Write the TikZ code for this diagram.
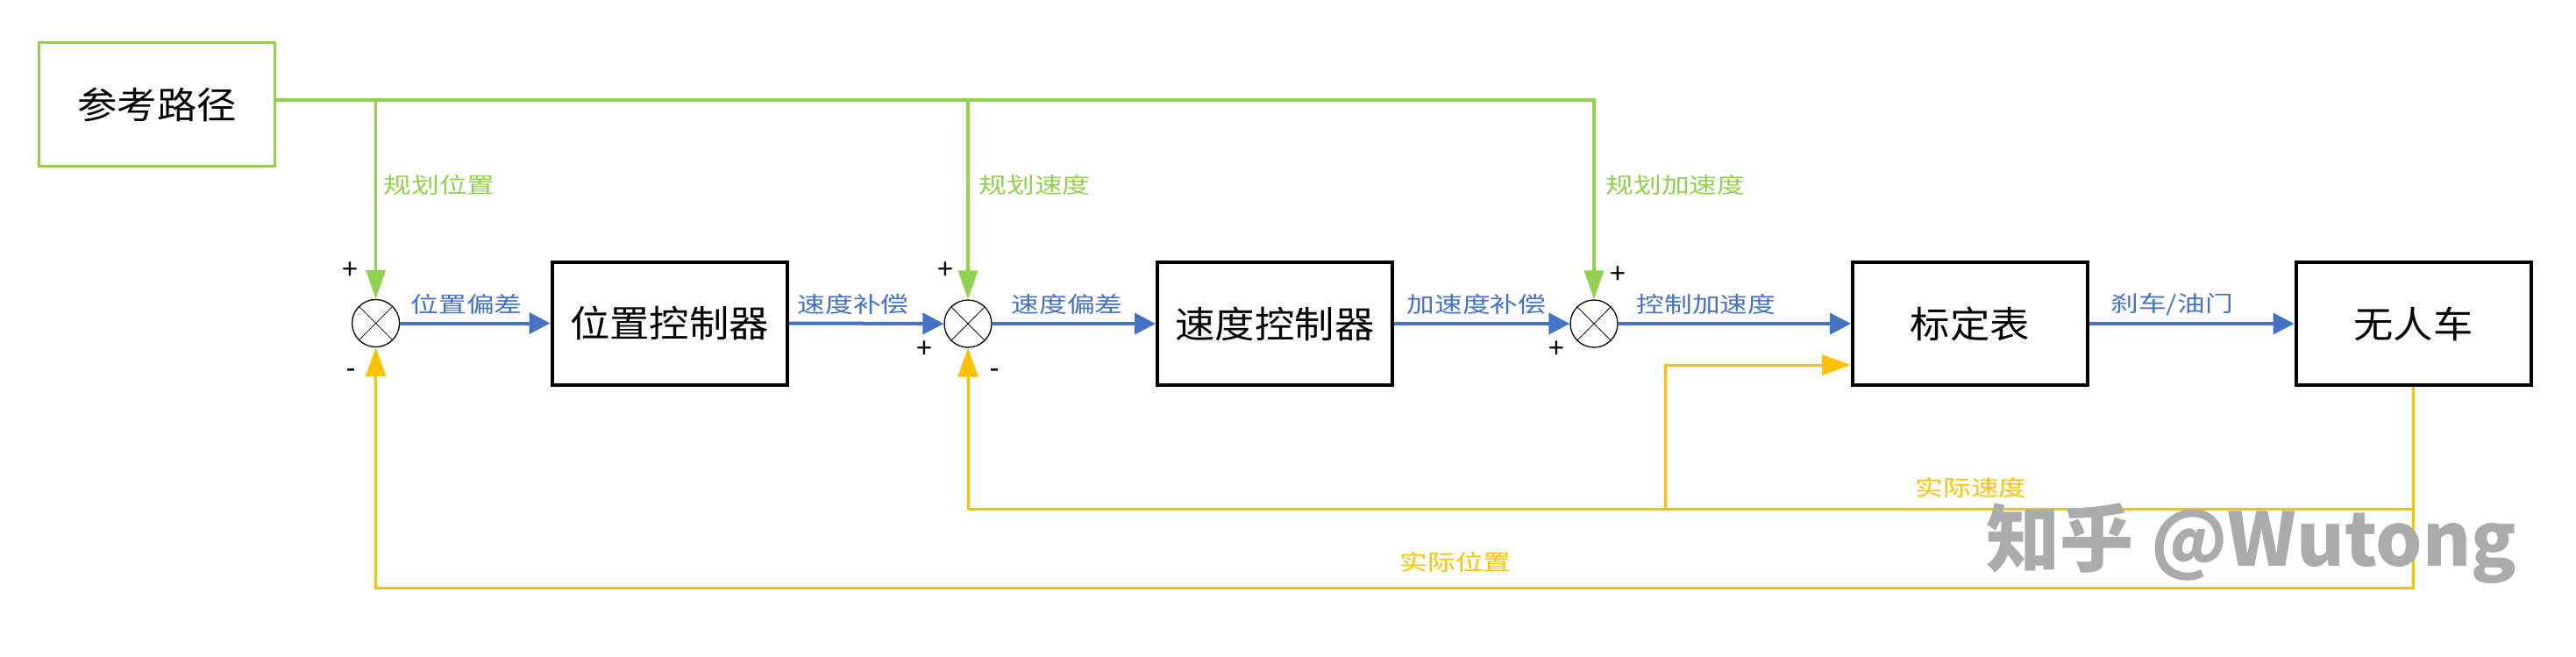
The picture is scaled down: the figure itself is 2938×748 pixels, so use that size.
\documentclass[tikz,border=0pt]{standalone}
\usepackage{fontspec}
\usepackage{graphicx}
\setmainfont{Carlito}
\newfontfamily\cjk{Noto Sans CJK SC}
\usetikzlibrary{arrows.meta}
\definecolor{gr}{HTML}{92D050}
\definecolor{bl}{HTML}{4472C4}
\definecolor{ye}{HTML}{FFC000}
\definecolor{wmc}{HTML}{ABABAB}
\newcommand\bx[1]{\scalebox{1.08}[1]{#1}}
\newcommand\lx[1]{\scalebox{1.27}[1]{#1}}
\tikzset{
  box/.style={draw=black, line width=4pt, minimum width=268pt, minimum height=140pt, inner sep=0pt,
    font=\cjk\fontsize{42}{42}\selectfont},
  refbox/.style={draw=gr, line width=3.5pt, minimum width=269pt, minimum height=141pt, inner sep=0pt,
    font=\cjk\fontsize{42}{42}\selectfont},
  sumj/.style={circle, draw=black, line width=1.3pt, minimum size=54pt, inner sep=0pt},
  gline/.style={draw=gr, line width=3.5pt},
  bline/.style={draw=bl, line width=4pt},
  yline/.style={draw=ye, line width=3pt},
  vtip/.style={-{Triangle[length=33pt,width=22pt]}},
  htip/.style={-{Triangle[length=24pt,width=24pt]}},
  ytip/.style={-{Triangle[length=33pt,width=23pt]}},
  lab/.style={inner sep=0pt, font=\cjk\fontsize{25}{25}\selectfont},
  sgn/.style={inner sep=0pt, font=\fontsize{34}{34}\selectfont, text=black},
}
\begin{document}
\begin{tikzpicture}[x=1pt,y=-1pt]
\useasboundingbox[fill=white] (0,0) rectangle (2938,748);

% blocks
\node[refbox] (ref) at (179,119) {\bx{参考路径}};
\node[box] (pc) at (763.5,368.5) {\bx{位置控制器}};
\node[box] (vc) at (1454,369) {\bx{速度控制器}};
\node[box] (cal) at (2247,369) {\bx{标定表}};
\node[box] (car) at (2752.5,369) {\bx{无人车}};

% summing junctions
\node[sumj] (s1) at (428.6,368.5) {};
\node[sumj] (s2) at (1104,369) {};
\node[sumj] (s3) at (1818,369) {};
\foreach \s in {s1,s2,s3}{
  \draw[line width=0.8pt] (\s.north west) -- (\s.south east) (\s.north east) -- (\s.south west);
}

% helper coordinates
\coordinate (tl) at (0,114);
\coordinate (ya) at (0,580);
\coordinate (yb) at (0,670);
\coordinate (yk) at (1899,580);
\coordinate (yk2) at (1899,416);

% green feed-forward lines
\draw[gline, vtip] (ref.east |- tl) -- (s3 |- tl) -- (s3.north);
\draw[gline, vtip] (s1 |- tl) -- (s1.north);
\draw[gline, vtip] (s2 |- tl) -- (s2.north);

% blue forward path
\draw[bline, htip] (s1.east) -- (pc.west);
\draw[bline, htip] (pc.east) -- (s2.west);
\draw[bline, htip] (s2.east) -- (vc.west);
\draw[bline, htip] (vc.east) -- (s3.west);
\draw[bline, htip] (s3.east) -- (cal.west);
\draw[bline, htip] (cal.east) -- (car.west);

% yellow feedback
\draw[yline, ytip] (car.south) -- (car.south |- yb) -- (s1 |- yb) -- (s1.south);
\draw[yline, ytip] (car.south |- ya) -- (s2 |- ya) -- (s2.south);
\draw[yline, ytip] (yk) -- (yk2) -- (cal.west |- yk2);

% green labels
\node[lab, text=gr] (l1) at (501,211) {\lx{规划位置}};
\node[lab, text=gr] (l2) at (1180,211) {\lx{规划速度}};
\node[lab, text=gr] (l3) at (1911,211) {\lx{规划加速度}};
% blue labels
\node[lab, text=bl] (l4) at (532,347) {\lx{位置偏差}};
\node[lab, text=bl] (l5) at (973,347) {\lx{速度补偿}};
\node[lab, text=bl] (l6) at (1217,347) {\lx{速度偏差}};
\node[lab, text=bl] (l7) at (1684,347) {\lx{加速度补偿}};
\node[lab, text=bl] (l8) at (1946,347) {\lx{控制加速度}};
\node[lab, text=bl] (l9) at (2477,347) {\lx{刹车/油门}};
% yellow labels
\node[lab, text=ye] (l10) at (2248,556) {\lx{实际速度}};
\node[lab, text=ye] (l11) at (1660,641) {\lx{实际位置}};

% signs
\node[sgn] (p1) at (399,308) {+};
\node[sgn] (m1) at (400,426) {-};
\node[sgn] (p2) at (1078,308) {+};
\node[sgn] (p3) at (1054,398) {+};
\node[sgn] (m2) at (1134,426) {-};
\node[sgn] (p4) at (1845,313) {+};
\node[sgn] (p5) at (1775,398) {+};

% watermark
\node[inner sep=0pt, text=wmc, font=\cjk\bfseries\fontsize{84}{84}\selectfont] (wm) at (2568,620) {知乎 @Wutong};
\end{tikzpicture}
\end{document}
